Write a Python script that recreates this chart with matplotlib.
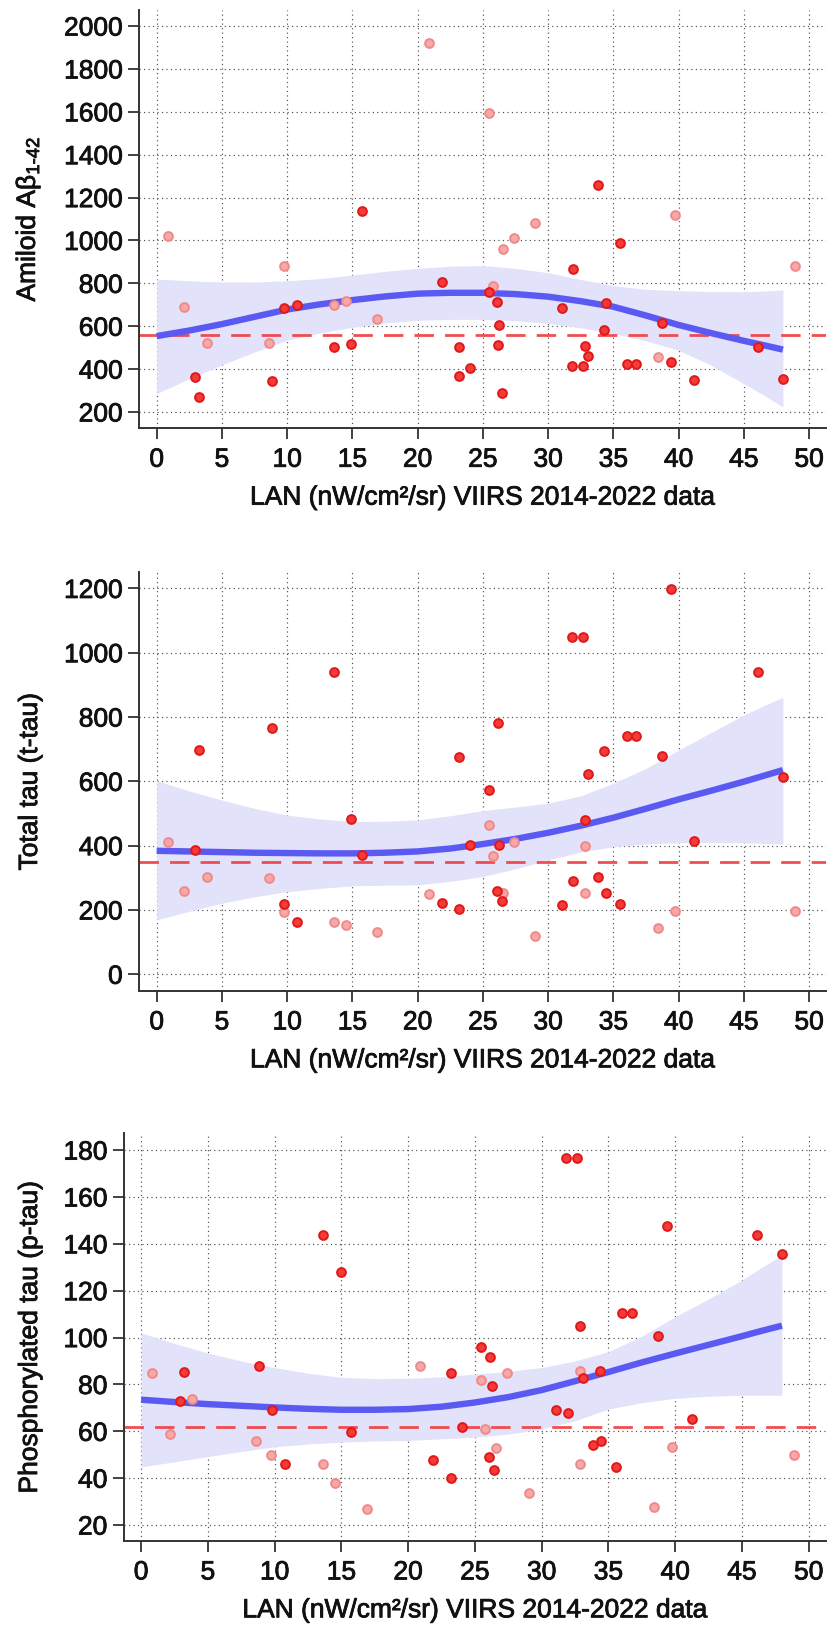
import matplotlib
matplotlib.use("Agg")
import matplotlib.pyplot as plt
import matplotlib.patheffects as pe

plt.rcParams['font.family'] = ['Liberation Sans', 'DejaVu Sans']
plt.rcParams['mathtext.fontset'] = 'custom'
plt.rcParams['mathtext.rm'] = 'Liberation Sans'
plt.rcParams['mathtext.it'] = 'Liberation Sans:italic'
plt.rcParams['mathtext.bf'] = 'Liberation Sans:bold'

# ---------------- data ----------------
# Panel 1: Amyloid Abeta 1-42
ab_dark_x = [2.94, 3.22, 8.84, 9.73, 10.73, 13.61, 14.92, 15.71, 21.84, 23.14, 23.14, 24.0,
             25.44, 26.05, 26.13, 26.23, 26.45, 31.03, 31.82, 31.9, 32.64, 32.84, 33.05, 33.84,
             34.32, 34.42, 35.5, 36.03, 36.72, 38.74, 39.43, 41.22, 46.09, 48.03]
ab_dark_y = [362, 270, 345, 683, 697, 505, 519, 1139, 805, 505, 368, 405,
             758, 713, 511, 606, 289, 685, 415, 868, 415, 508, 460, 1260,
             582, 710, 988, 425, 425, 615, 435, 351, 505, 354]
ab_light_x = [0.84, 2.12, 3.83, 8.61, 9.73, 13.61, 14.5, 16.88, 20.84, 25.44, 25.74, 26.54,
              27.35, 29.01, 38.41, 39.73, 48.9]
ab_light_y = [1020, 690, 520, 520, 882, 697, 719, 634, 1919, 1596, 788, 960,
              1010, 1081, 455, 1120, 882]
ab_ref = 558

# Panel 2: Total tau
tt_dark_x = [13.61, 8.84, 3.22, 14.92, 2.94, 15.71, 9.73, 10.73, 39.43, 31.82, 32.64, 46.09,
             26.13, 36.03, 36.72, 23.14, 34.32, 38.74, 33.05, 48.03, 25.44, 32.84, 41.22, 24.0,
             26.23, 31.92, 33.84, 34.42, 26.05, 26.45, 21.84, 23.14, 31.03, 35.52]
tt_dark_y = [940, 766, 696, 484, 385, 372, 218, 162, 1197, 1050, 1050, 940,
             780, 740, 740, 675, 694, 679, 623, 612, 573, 480, 416, 402,
             402, 290, 303, 253, 258, 228, 223, 202, 217, 219]
tt_light_x = [0.84, 3.83, 8.61, 2.12, 9.73, 13.61, 14.5, 16.88, 25.44, 27.35, 32.84, 25.74,
              32.84, 26.54, 20.84, 39.73, 48.9, 38.41, 29.01]
tt_light_y = [410, 302, 298, 260, 195, 162, 153, 130, 464, 411, 398, 368,
              254, 253, 249, 198, 196, 145, 118]
tt_ref = 350

# Panel 3: Phosphorylated tau
pt_dark_x = [13.63, 14.95, 3.2, 8.83, 2.93, 9.78, 15.75, 10.75, 31.85, 32.65, 39.42, 46.11,
             48.03, 36.01, 36.75, 32.85, 38.75, 25.45, 26.15, 23.19, 34.36, 33.07, 26.27, 31.05,
             31.97, 41.23, 24.06, 34.46, 33.87, 21.87, 26.05, 26.47, 35.56, 23.19]
pt_dark_y = [143.7, 127.8, 85.3, 87.8, 72.9, 68.9, 59.8, 45.9, 176.7, 176.7, 147.7, 143.9,
             135.8, 110.7, 110.7, 104.8, 100.8, 95.9, 91.8, 84.7, 85.7, 82.9, 79.4, 68.9,
             67.9, 65.2, 61.8, 56.0, 54.0, 47.9, 48.9, 43.7, 44.9, 40.1]
pt_light_x = [0.83, 3.83, 2.13, 8.63, 9.73, 13.63, 14.53, 16.95, 20.9, 27.37, 32.85, 25.45,
              25.78, 26.57, 39.74, 32.85, 48.9, 29.06, 38.42]
pt_light_y = [84.7, 73.9, 59.0, 56.0, 50.0, 45.9, 37.9, 27.0, 87.8, 84.7, 85.8, 81.7,
              61.1, 52.7, 53.1, 46.2, 49.9, 33.8, 27.8]
pt_ref = 62

# Smoothed fits with confidence band
fit_x = [0, 2.5, 5, 7.5, 10, 12.5, 15, 17.5, 20, 22.5, 25, 27.5, 30, 32.5, 35, 37.5, 40,
         42.5, 45, 46.5, 48]
ab_fit = [554, 580, 610, 644, 678, 702, 722, 739, 752, 756, 756, 750, 738, 717, 691, 650, 606,
          568, 532, 512, 491]
ab_hi = [820, 812, 806, 806, 812, 822, 839, 856, 870, 880, 883, 870, 850, 818, 790, 772, 766,
         762, 761, 764, 769]
ab_lo = [286, 355, 420, 480, 535, 568, 595, 615, 628, 632, 632, 626, 613, 593, 566, 532, 488,
         418, 332, 280, 223]
tt_fit = [384, 382, 380, 378, 377, 376, 376, 378, 382, 391, 405, 421, 440, 462, 487, 515, 544,
          571, 599, 617, 635]
tt_hi = [602, 570, 542, 516, 495, 483, 475, 476, 480, 493, 509, 520, 532, 555, 594, 640, 697,
         752, 806, 835, 861]
tt_lo = [169, 196, 221, 241, 257, 267, 275, 277, 278, 289, 304, 328, 355, 380, 397, 405, 409,
         409, 409, 407, 405]
pt_fit = [73.5, 72.5, 71.6, 70.9, 70.2, 69.6, 69.2, 69.2, 69.5, 70.5, 72.3, 74.6, 77.6, 81.4,
          85.3, 89.4, 93.2, 96.9, 100.6, 102.9, 105.1]
pt_hi = [102.0, 97.5, 93.4, 90.0, 87.2, 84.8, 83.0, 82.5, 82.6, 83.3, 84.4, 85.6, 87.2, 90.0,
         94.0, 100.5, 108.9, 116.5, 124.5, 130.0, 135.2]
pt_lo = [44.8, 47.0, 49.2, 51.4, 53.4, 54.6, 55.4, 55.9, 56.1, 56.8, 57.5, 58.8, 61.0, 64.5,
         69.5, 72.2, 74.1, 75.0, 75.4, 75.4, 75.4]

x_ticks = list(range(0, 51, 5))
ab_ticks = list(range(200, 2001, 200))
tt_ticks = list(range(0, 1201, 200))
pt_ticks = list(range(20, 181, 20))

xlabel = "LAN (nW/cm\u00b2/sr) VIIRS 2014-2022 data"

# ---------------- drawing ----------------
W, H = 829, 1638
fig = plt.figure(figsize=(W / 100, H / 100), dpi=100)

FS = 19
BLUE = '#5a5af2'
BAND = '#e2e2fb'
thick = [pe.withStroke(linewidth=0.6, foreground='#111111')]

panels = [
    dict(rect=(139.3, 10, 826, 428.3), xlim=(-1.33, 51.3), ylim=(124, 2075),
         yticks=ab_ticks, ylabel='Amiloid A\u03b2$_{\\mathregular{1\\text{-}42}}$',
         dx=ab_dark_x, dy=ab_dark_y, lx=ab_light_x, ly=ab_light_y, ref=ab_ref,
         fit=ab_fit, hi=ab_hi, lo=ab_lo),
    dict(rect=(139.3, 571.7, 826, 991), xlim=(-1.33, 51.3), ylim=(-52, 1252),
         yticks=tt_ticks, ylabel='Total tau (t-tau)',
         dx=tt_dark_x, dy=tt_dark_y, lx=tt_light_x, ly=tt_light_y, ref=tt_ref,
         fit=tt_fit, hi=tt_hi, lo=tt_lo),
    dict(rect=(124, 1133, 826, 1541), xlim=(-1.28, 51.3), ylim=(13.2, 187.3),
         yticks=pt_ticks, ylabel='Phosphorylated tau (p-tau)',
         dx=pt_dark_x, dy=pt_dark_y, lx=pt_light_x, ly=pt_light_y, ref=pt_ref,
         fit=pt_fit, hi=pt_hi, lo=pt_lo),
]

for p in panels:
    x0, y0, x1, y1 = p['rect']
    ax = fig.add_axes([x0 / W, 1 - y1 / H, (x1 - x0) / W, (y1 - y0) / H])
    ax.set_xlim(*p['xlim'])
    ax.set_ylim(*p['ylim'])
    ax.set_xticks(x_ticks)
    ax.set_yticks(p['yticks'])
    ax.grid(True, linestyle=(0, (1, 2.8)), color='#505050', linewidth=0.85)
    ax.set_axisbelow(True)
    for s in ('top', 'right'):
        ax.spines[s].set_visible(False)
    for s in ('left', 'bottom'):
        ax.spines[s].set_linewidth(1.4)
        ax.spines[s].set_color('#333333')
    ax.tick_params(axis='both', direction='out', length=8, width=1.3,
                   color='#333333', labelsize=FS, labelcolor='#111111')
    ax.tick_params(axis='x', pad=6)
    ax.tick_params(axis='y', pad=4)
    for lab in ax.get_xticklabels() + ax.get_yticklabels():
        lab.set_path_effects(thick)

    ax.fill_between(fit_x, p['lo'], p['hi'], color=BAND, linewidth=0, zorder=1)
    ax.axhline(p['ref'], color='#f03c3c', linewidth=2.0, dashes=(7, 4), alpha=0.9, zorder=2)
    ax.plot(fit_x, p['fit'], color=BLUE, linewidth=4.6, solid_capstyle='butt',
            solid_joinstyle='round', zorder=3)
    ax.scatter(p['lx'], p['ly'], s=40, facecolor='#f7a8a8', edgecolor='#f08a8a',
               linewidth=1.4, zorder=4)
    ax.scatter(p['dx'], p['dy'], s=40, facecolor='#f53a3a', edgecolor='#e01818',
               linewidth=1.4, zorder=5)

    ax.set_xlabel(xlabel, fontsize=FS, labelpad=10, color='#111111', path_effects=thick)
    ax.set_ylabel(p['ylabel'], fontsize=FS, color='#111111', path_effects=thick)
    ax.yaxis.set_label_coords((42 - x0) / (x1 - x0), 0.5)

fig.savefig('out.png', dpi=100)
